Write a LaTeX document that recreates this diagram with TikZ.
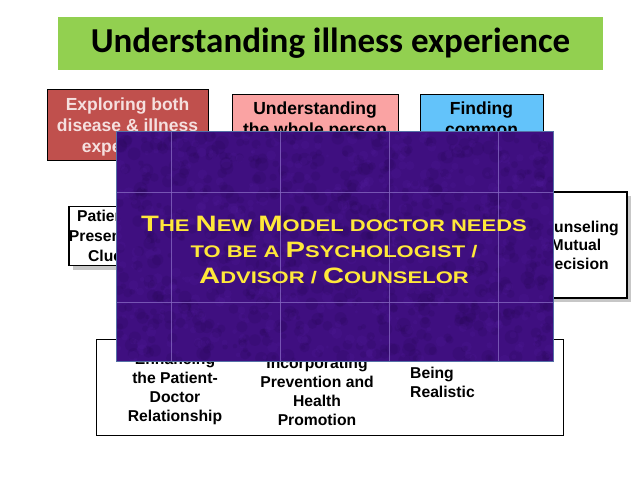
\documentclass[tikz,border=0pt]{standalone}
\usepackage{fontspec}
\setmainfont{Liberation Sans}
\newfontfamily\calibri{Carlito}
\newfontfamily\copperfont[FakeStretch=1.31]{Liberation Sans}
\usetikzlibrary{shadows}
\definecolor{banner}{HTML}{92D050}
\definecolor{redbox}{HTML}{C0504D}
\definecolor{redtext}{HTML}{F5E0DF}
\definecolor{pinkbox}{HTML}{FAA3A3}
\definecolor{bluebox}{HTML}{63C3FA}
\definecolor{purp}{HTML}{3F0F80}
\definecolor{purpdark}{HTML}{24064F}
\definecolor{purplight}{HTML}{5A22A8}
\definecolor{bordblue}{HTML}{5470A6}
\definecolor{gridpurp}{HTML}{8466C0}
\definecolor{yel}{HTML}{FFE83A}
\newcommand\BC[1]{{\fontsize{22.3}{26}\selectfont #1}}
\tikzset{
  topbox/.style={draw=black, line width=1pt, align=center, inner sep=0pt,
    font=\bfseries\fontsize{17.5}{21}\selectfont},
  midbox/.style={draw=black, line width=1.4pt, fill=white, align=center, inner sep=0pt,
    font=\bfseries\fontsize{15.7}{19}\selectfont,
    drop shadow={shadow xshift=4pt, shadow yshift=-4pt, fill=black!22, opacity=1}},
  bottxt/.style={align=center, inner sep=0pt, font=\bfseries\fontsize{15.7}{19}\selectfont},
  gridline/.style={draw=gridpurp, line width=0.6pt, opacity=0.8}
}
\begin{document}
\begin{tikzpicture}[x=1pt,y=-1pt]
\useasboundingbox (0,0) rectangle (638,479);
\fill[white] (0,0) rectangle (638,479);

% title banner
\node[fill=banner, minimum width=545, minimum height=53, inner sep=0pt,
  font=\calibri\bfseries\fontsize{35}{40}\selectfont] (title) at (330.5,43.5)
  {Understanding illness experience};

% top boxes
\node[topbox, fill=redbox, minimum width=161, minimum height=71] (explore)
  at (127.5,124.5) {};
\node[topbox, text=redtext, draw=none] (exploretxt) at (127.5,127)
  {Exploring both\\disease \& illness\\experience};
\node[topbox, fill=pinkbox, minimum width=166, minimum height=53] (whole)
  at (315,120.5) {Understanding\\the whole person};
\node[topbox, fill=bluebox, minimum width=123, minimum height=74] (common)
  at (481.5,131) {Finding\\common\\ground};

% middle boxes
\node[midbox, minimum width=81, minimum height=59, font=\bfseries\fontsize{15.7}{20}\selectfont] (patient)
  at (109.5,236) {Patient's\\Presenting\\Clues};
\node[midbox, minimum width=102, minimum height=106, font=\bfseries\fontsize{15.7}{18.5}\selectfont] (counsel)
  at (576,245) {Counseling\\Mutual\\Decision};

% bottom box
\node[draw=black, line width=0.8pt, minimum width=467, minimum height=96, inner sep=0pt] (bottom)
  at (329.5,387) {};
\node[bottxt] (enh) at (175,389) {Enhancing\\the Patient-\\Doctor\\Relationship};
\node[bottxt] (prev) at (317,391.5) {Incorporating\\Prevention and\\Health\\Promotion};
\node[bottxt, align=left, anchor=west] (real) at (410,382.5) {Being\\Realistic};

% overlay
\node[fill=purp, minimum width=436, minimum height=229, inner sep=0pt] (overlay) at (335,246.5) {};
\begin{scope}
  \clip (overlay.north west) rectangle (overlay.south east);
  \pgfmathsetseed{42}
  \foreach \i in {1,...,700}{
    \pgfmathsetmacro\px{117+436*rnd}
    \pgfmathsetmacro\py{132+229*rnd}
    \pgfmathsetmacro\pr{2+5*rnd}
    \fill[purpdark, opacity=0.16] (\px,\py) circle[radius=\pr pt];
  }
  \foreach \i in {1,...,500}{
    \pgfmathsetmacro\px{117+436*rnd}
    \pgfmathsetmacro\py{132+229*rnd}
    \pgfmathsetmacro\pr{1.5+4*rnd}
    \fill[purplight, opacity=0.14] (\px,\py) circle[radius=\pr pt];
  }
  \foreach \gx in {171,280,389,498}{
    \draw[gridline] (\gx,132) -- (\gx,361);
  }
  \foreach \gy in {192,302}{
    \draw[gridline] (117,\gy) -- (553,\gy);
  }
\end{scope}
\draw[bordblue, line width=1.3pt] (overlay.north west) rectangle (overlay.south east);

\node[text=yel, align=center, inner sep=0pt,
  font=\copperfont\bfseries\fontsize{16.8}{26}\selectfont] (msg) at (334,249.5)
  {\BC{T}HE \BC{N}EW \BC{M}ODEL DOCTOR NEEDS\\TO BE A \BC{P}SYCHOLOGIST /\\\BC{A}DVISOR / \BC{C}OUNSELOR};
\end{tikzpicture}
\end{document}
